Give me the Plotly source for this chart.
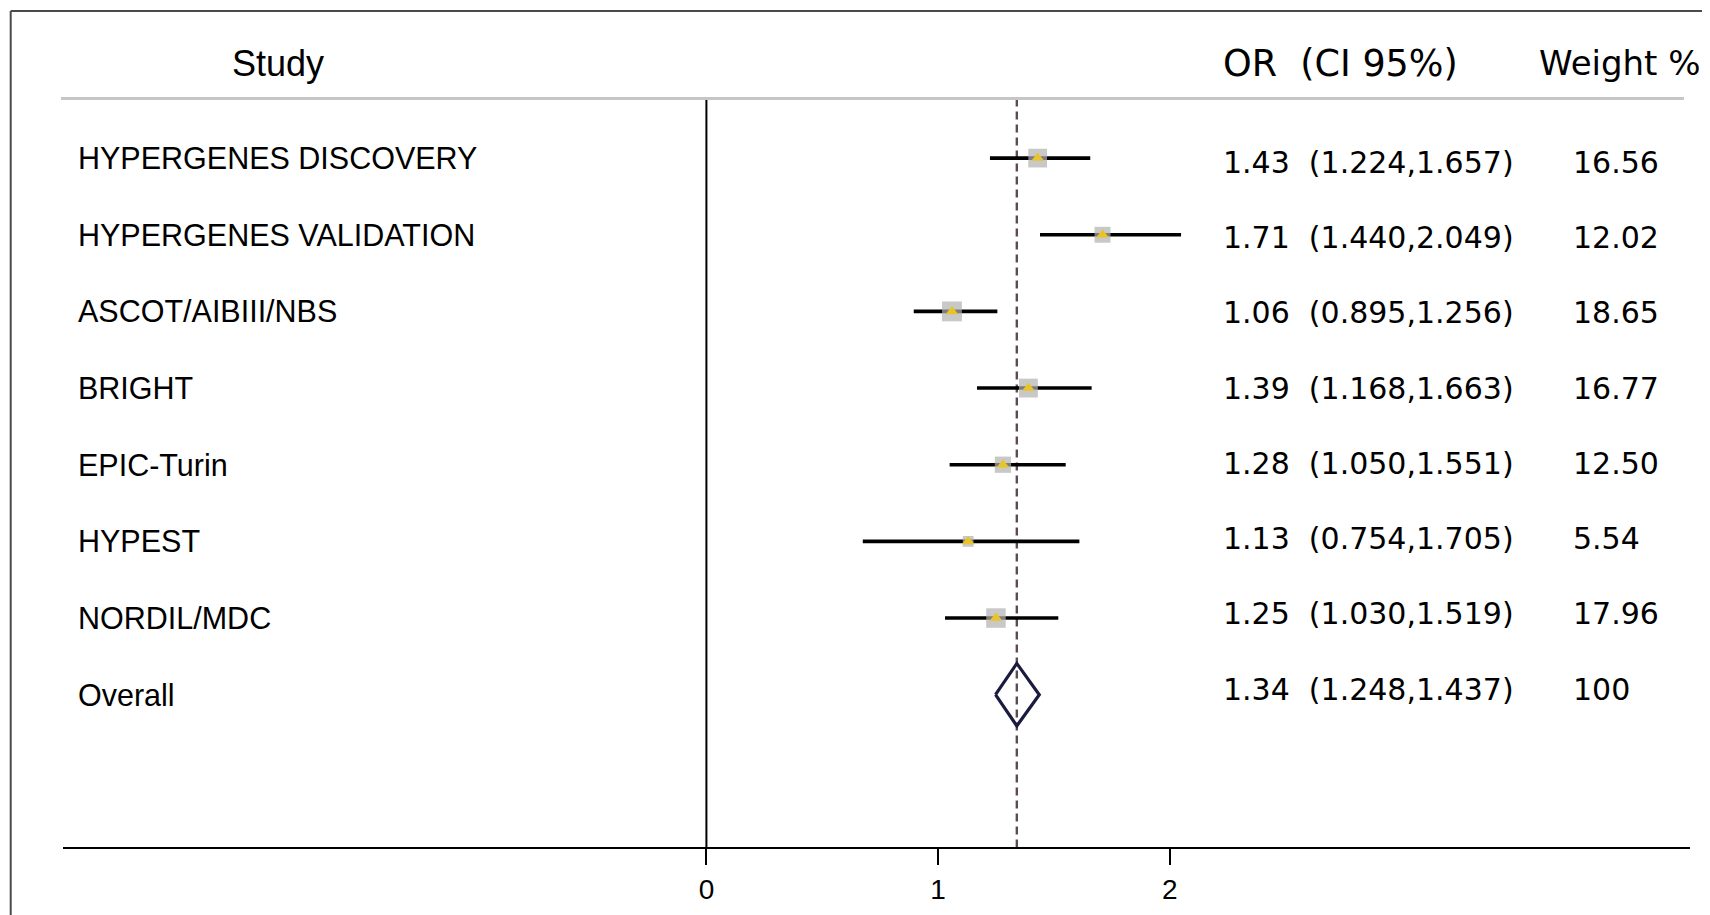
import numpy as np
import plotly.graph_objects as go

# ---------------- data ----------------
studies = ["HYPERGENES DISCOVERY", "HYPERGENES VALIDATION", "ASCOT/AIBIII/NBS",
           "BRIGHT", "EPIC-Turin", "HYPEST", "NORDIL/MDC"]
or_vals = [1.43, 1.71, 1.06, 1.39, 1.28, 1.13, 1.25]
ci_low = [1.224, 1.440, 0.895, 1.168, 1.050, 0.754, 1.030]
ci_high = [1.657, 2.049, 1.256, 1.663, 1.551, 1.705, 1.519]
weights = [16.56, 12.02, 18.65, 16.77, 12.50, 5.54, 17.96]
# whisker ends as drawn in the picture
line_low = [1.224, 1.440, 0.895, 1.168, 1.050, 0.675, 1.030]
line_high = [1.657, 2.049, 1.256, 1.663, 1.551, 1.610, 1.519]

overall_label = "Overall"
overall_or = 1.34
overall_low = 1.248
overall_high = 1.437
overall_weight = 100

tick_vals = [0, 1, 2]
headers = ["Study", "OR\u00a0\u00a0(CI 95%)", "Weight\u00a0%"]

# ---------------- layout constants ----------------
W, H = 1702, 907
ML, MR, MT, MB = 55, 20, 3, 68
X_RANGE = [-2.7775, 4.2460]
Y_RANGE = [8.987, -1.919]
HEADER_LINE_Y = -0.777
HEADER_Y = -1.2405
LABEL_X = -2.721
NUM_X = 2.2214
WEIGHT_X = 3.732
STUDY_HDR_X = -1.848
WEIGHT_HDR_X = 3.5856

ARIAL = "Arial, Liberation Sans, sans-serif"
VERD = "Verdana, DejaVu Sans, sans-serif"

n = len(studies)
rows = list(range(n))

fig = go.Figure()

# CI whiskers
xs, ys = [], []
for i in rows:
    xs += [line_low[i], line_high[i], None]
    ys += [i, i, None]
fig.add_trace(go.Scatter(x=xs, y=ys, mode="lines",
                         line=dict(color="black", width=3.6), hoverinfo="skip"))

# weight squares
fig.add_trace(go.Scatter(x=or_vals, y=rows, mode="markers",
                         marker=dict(symbol="square",
                                     size=[4.6 * np.sqrt(w) for w in weights],
                                     color="#b0b0b0", line=dict(width=0))))
# point estimates
fig.add_trace(go.Scatter(x=or_vals, y=rows, mode="markers",
                         marker=dict(symbol="triangle-up", size=11,
                                     color="#e8c42a", line=dict(width=0))))

# overall diamond
hd = 0.407
fig.add_trace(go.Scatter(
    x=[overall_low, overall_or, overall_high, overall_or, overall_low],
    y=[n, n - hd, n, n + hd, n], mode="lines",
    line=dict(color="#1b1b40", width=3.2), hoverinfo="skip"))

shapes = []
# dashed overall line
shapes.append(dict(type="line", xref="x", yref="y", x0=overall_or, x1=overall_or,
                   y0=HEADER_LINE_Y, y1=Y_RANGE[0],
                   line=dict(color="#5e4a54", width=2.4, dash="8px,5px"), layer="below"))
# null line at 0
shapes.append(dict(type="line", xref="x", yref="y", x0=0, x1=0,
                   y0=HEADER_LINE_Y, y1=Y_RANGE[0],
                   line=dict(color="black", width=2)))
# header rule
shapes.append(dict(type="line", xref="paper", yref="y", x0=-0.0012, x1=0.9963,
                   y0=HEADER_LINE_Y, y1=HEADER_LINE_Y,
                   line=dict(color="#c6c6c6", width=3)))
# outer frame (top + left)
shapes.append(dict(type="line", xref="paper", yref="paper", x0=-0.03214, x1=1.013,
                   y0=1.0, y1=1.0, line=dict(color="#4a4a4a", width=2)))
shapes.append(dict(type="line", xref="paper", yref="paper", x0=-0.03214, x1=-0.03214,
                   y0=1.0, y1=-0.09, line=dict(color="#4a4a4a", width=2)))

ann = []
labels = studies + [overall_label]
for i, lab in enumerate(labels):
    ann.append(dict(x=LABEL_X, y=i, xref="x", yref="y", text=lab, showarrow=False,
                    xanchor="left", yanchor="middle",
                    font=dict(family=ARIAL, size=30.5, color="black")))

all_or = or_vals + [overall_or]
all_lo = ci_low + [overall_low]
all_hi = ci_high + [overall_high]
all_w = weights + [overall_weight]
for i in range(n + 1):
    shift = -(4.4 - 1.41 * i)
    txt = f"{all_or[i]:.2f}\u00a0\u00a0({all_lo[i]:.3f},{all_hi[i]:.3f})"
    ann.append(dict(x=NUM_X, y=i, xref="x", yref="y", text=txt, showarrow=False,
                    xanchor="left", yanchor="middle", yshift=shift,
                    font=dict(family=VERD, size=30, color="black")))
    wt = "100" if all_w[i] == 100 else f"{all_w[i]:.2f}"
    ann.append(dict(x=WEIGHT_X, y=i, xref="x", yref="y", text=wt, showarrow=False,
                    xanchor="left", yanchor="middle", yshift=shift,
                    font=dict(family=VERD, size=30, color="black")))

ann.append(dict(x=STUDY_HDR_X, y=HEADER_Y, xref="x", yref="y", text=headers[0],
                showarrow=False, xanchor="center", yanchor="middle",
                font=dict(family=ARIAL, size=36, color="black")))
ann.append(dict(x=NUM_X, y=HEADER_Y, xref="x", yref="y", text=headers[1],
                showarrow=False, xanchor="left", yanchor="middle",
                font=dict(family=VERD, size=36.5, color="black")))
ann.append(dict(x=WEIGHT_HDR_X, y=HEADER_Y, xref="x", yref="y", text=headers[2],
                showarrow=False, xanchor="left", yanchor="middle",
                font=dict(family=VERD, size=34, color="black")))

fig.update_layout(
    width=W, height=H,
    margin=dict(l=ML, r=MR, t=MT, b=MB, pad=0),
    paper_bgcolor="white", plot_bgcolor="white",
    showlegend=False,
    shapes=shapes, annotations=ann,
    xaxis=dict(range=X_RANGE, tickvals=tick_vals, ticktext=[str(v) for v in tick_vals],
               showgrid=False, zeroline=False, showline=True, linecolor="black",
               linewidth=2, ticks="outside", ticklen=16, tickwidth=2,
               tickcolor="black", tickfont=dict(family=ARIAL, size=28, color="black"),
               fixedrange=True),
    yaxis=dict(range=Y_RANGE, visible=False, fixedrange=True),
)

fig.write_html("out.html")
